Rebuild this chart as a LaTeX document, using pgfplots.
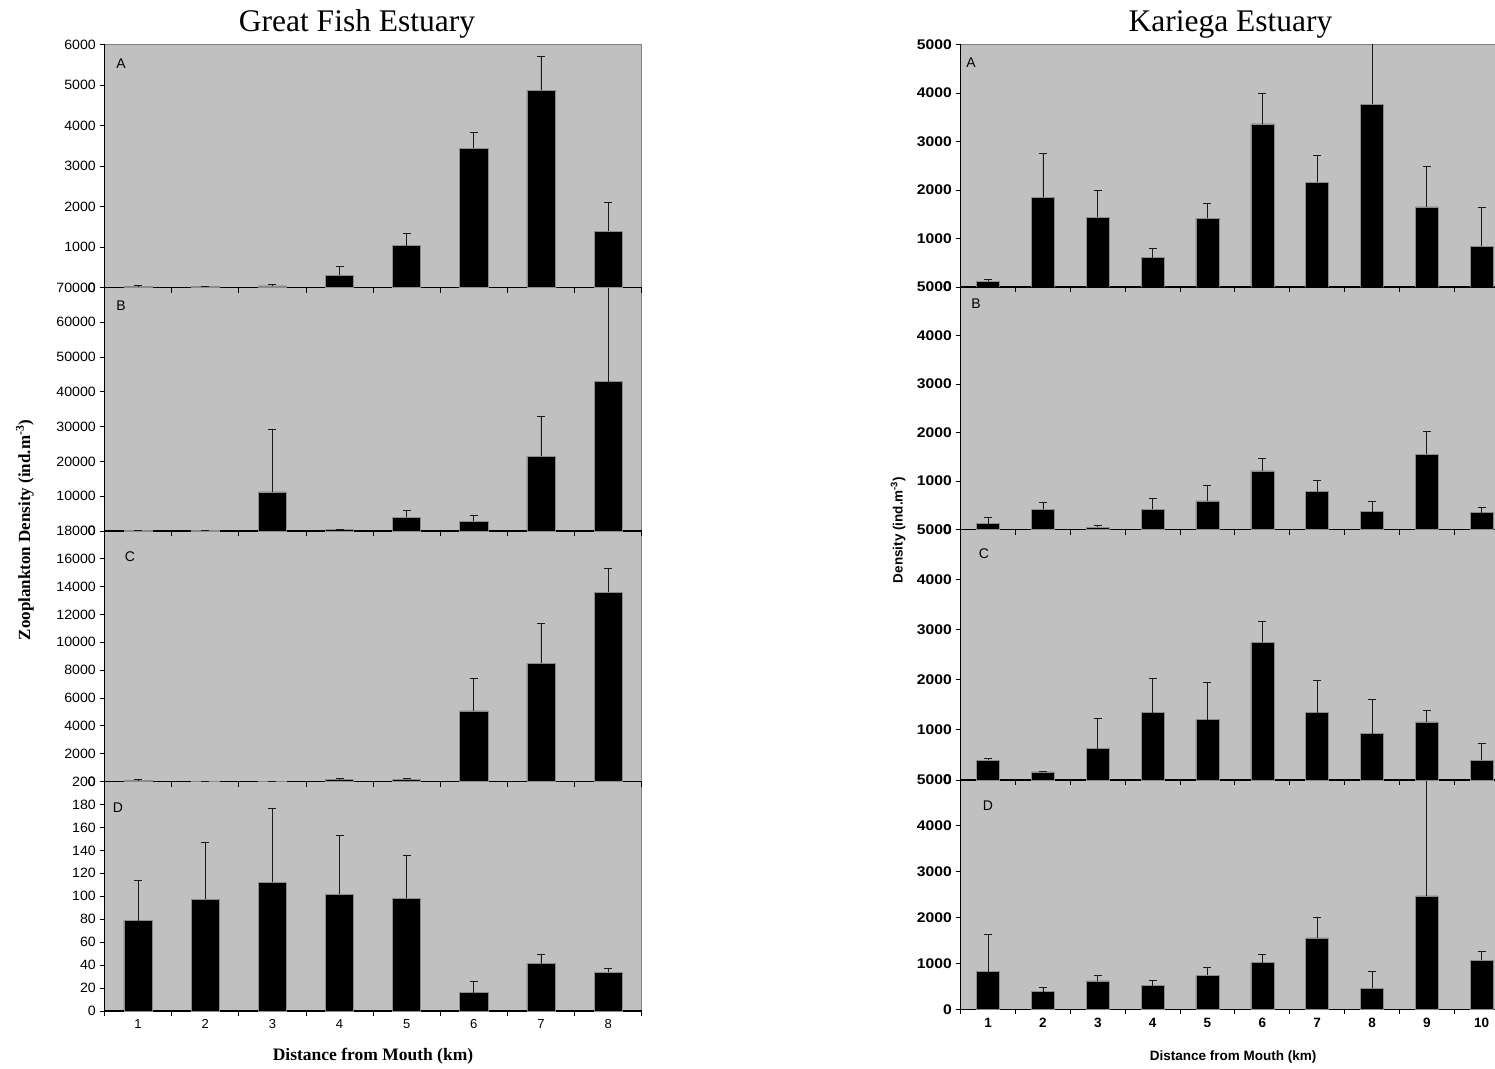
\documentclass[border=0pt]{standalone}
\usepackage{fontspec}
\setmainfont{Liberation Serif}
\newfontfamily\arial{Liberation Sans}
\usepackage{pgfplots}
\pgfplotsset{compat=1.18}

\definecolor{plotbg}{HTML}{C0C0C0}
\definecolor{framegray}{HTML}{808080}
\newcommand\fs[1]{\fontsize{#1}{#1}\selectfont}

\pgfplotsset{
  panel/.style={
    scale only axis,
    ybar, bar width=0.42, bar shift=0pt,
    ymin=0, xmin=0.5,
    axis x line*=bottom, axis y line*=left,
    axis line style={-, line width=1.1pt, black},
    axis background/.style={fill=plotbg, draw=framegray, line width=1.3pt},
    tick align=outside, major tick length=5pt,
    every tick/.style={black, line width=0.9pt},
    x tick label as interval,
    xticklabels={},
    scaled y ticks=false,
    /pgf/number format/set thousands separator={},
    /pgf/number format/assume math mode=true,
    clip=true,
  },
  bars/.style={fill=black, draw=black!45, line width=0.6pt,
    error bars/y dir=plus, error bars/y explicit,
    error bars/error bar style={line width=0.9pt, black!90},
    error bars/error mark options={rotate=90, mark size=4pt, line width=0.9pt, black!90}},
  gf/.style={panel, width=537.2pt, xmax=8.5, xtick={0.5,1.5,...,8.5},
    yticklabel style={font=\arial\fs{13.5}, xscale=1.05},
    xticklabel style={font=\arial\fs{13}}},
  ka/.style={panel, width=548.4pt, xmax=10.5, xtick={0.5,1.5,...,10.5},
    ymax=5000, ytick={0,1000,...,5000},
    yticklabel style={font=\arial\bfseries\fs{14}, xscale=1.12},
    xticklabel style={font=\arial\bfseries\fs{13.5}}},
}

\begin{document}
\begin{tikzpicture}[x=1pt,y=1pt]
% ---------------- Great Fish Estuary (bottom panel drawn first) ----------------
\begin{axis}[gf, at={(104.5pt,-781.5pt)}, anchor=north west, height=229.5pt,
  ymax=200, ytick={0,20,...,200}, xticklabels={1,2,3,4,5,6,7,8}]
\addplot[bars] coordinates {
  (1,78.8) +- (0,34.8) (2,97.5) +- (0,49.1) (3,112.4) +- (0,64.5) (4,101.9) +- (0,50.8)
  (5,98.4) +- (0,37.4) (6,16.1) +- (0,9.6) (7,41.2) +- (0,8.5) (8,33.9) +- (0,3.2)};
\end{axis}
\begin{axis}[gf, at={(104.5pt,-531pt)}, anchor=north west, height=250.5pt,
  ymax=18000, ytick={0,2000,...,18000}]
\addplot[bars] coordinates {
  (1,80) +- (0,40) (2,10) +- (0,0) (3,30) +- (0,10) (4,144) +- (0,72)
  (5,150) +- (0,70) (6,5081) +- (0,2350) (7,8485) +- (0,2852) (8,13614) +- (0,1678)};
\end{axis}
\begin{axis}[gf, at={(104.5pt,-287.5pt)}, anchor=north west, height=243.5pt,
  ymax=70000, ytick={0,10000,...,70000}]
\addplot[bars] coordinates {
  (1,150) +- (0,60) (2,150) +- (0,50) (3,11219) +- (0,17930) (4,380) +- (0,150)
  (5,3931) +- (0,2014) (6,2781) +- (0,1630) (7,21479) +- (0,11506) (8,42957) +- (0,35000)};
\end{axis}
\begin{axis}[gf, at={(104.5pt,-44.5pt)}, anchor=north west, height=243pt,
  ymax=6000, ytick={0,1000,...,6000}]
\addplot[bars] coordinates {
  (1,30) +- (0,10) (2,30) +- (0,5) (3,40) +- (0,25) (4,300) +- (0,226)
  (5,1035) +- (0,296) (6,3435) +- (0,394) (7,4873) +- (0,821) (8,1389) +- (0,723)};
\end{axis}

% ---------------- Kariega Estuary ----------------
\begin{axis}[ka, at={(960.7pt,-780pt)}, anchor=north west, height=229.3pt,
  xticklabels={1,2,3,4,5,6,7,8,9,10}]
\addplot[bars] coordinates {
  (1,821) +- (0,807) (2,385) +- (0,95) (3,618) +- (0,116) (4,516) +- (0,116) (5,741) +- (0,167)
  (6,1017) +- (0,182) (7,1555) +- (0,458) (8,458) +- (0,378) (9,2471) +- (0,3000) (10,1068) +- (0,204)};
\end{axis}
\begin{axis}[ka, at={(960.7pt,-529.5pt)}, anchor=north west, height=250.5pt]
\addplot[bars] coordinates {
  (1,393) +- (0,34) (2,160) +- (0,20) (3,627) +- (0,600) (4,1347) +- (0,673) (5,1207) +- (0,740)
  (6,2747) +- (0,420) (7,1347) +- (0,646) (8,927) +- (0,673) (9,1160) +- (0,227) (10,393) +- (0,340)};
\end{axis}
\begin{axis}[ka, at={(960.7pt,-287pt)}, anchor=north west, height=242.5pt]
\addplot[bars] coordinates {
  (1,118) +- (0,124) (2,415) +- (0,145) (3,48) +- (0,28) (4,415) +- (0,235) (5,588) +- (0,325)
  (6,1210) +- (0,263) (7,781) +- (0,229) (8,367) +- (0,214) (9,1556) +- (0,470) (10,346) +- (0,104)};
\end{axis}
\begin{axis}[ka, at={(960.7pt,-44.5pt)}, anchor=north west, height=242.5pt]
\addplot[bars] coordinates {
  (1,117) +- (0,34) (2,1852) +- (0,905) (3,1440) +- (0,549) (4,604) +- (0,185) (5,1420) +- (0,308)
  (6,3361) +- (0,624) (7,2160) +- (0,549) (8,3772) +- (0,1500) (9,1653) +- (0,823) (10,844) +- (0,802)};
\end{axis}

% panel letters
\begin{scope}[every node/.style={font=\arial\fs{14}}]
\node at (121,-64) {A};
\node at (121,-306) {B};
\node at (130,-557) {C};
\node at (118,-808) {D};
\node at (971,-63) {A};
\node at (976,-304) {B};
\node at (984,-554) {C};
\node at (988,-806) {D};
\end{scope}

% titles and axis labels
\node[font=\fs{31.5}] at (357,-24) {Great Fish Estuary};
\node[font=\fs{31.5}] at (1230.5,-24) {Kariega Estuary};
\node[font=\bfseries\fs{17}, rotate=90] at (25,-530) {Zooplankton Density (ind.m\textsuperscript{-3})};
\node[font=\arial\bfseries\fs{13.5}, rotate=90] at (898,-530) {Density (ind.m\textsuperscript{-3})};
\node[font=\bfseries\fs{17.5}] at (373,-1056.5) {Distance from Mouth (km)};
\node[font=\arial\bfseries\fs{13.5}] at (1233,-1056.5) {Distance from Mouth (km)};

\pgfresetboundingbox
\path[use as bounding box] (0,0) rectangle (1495,-1068);
\end{tikzpicture}
\end{document}
